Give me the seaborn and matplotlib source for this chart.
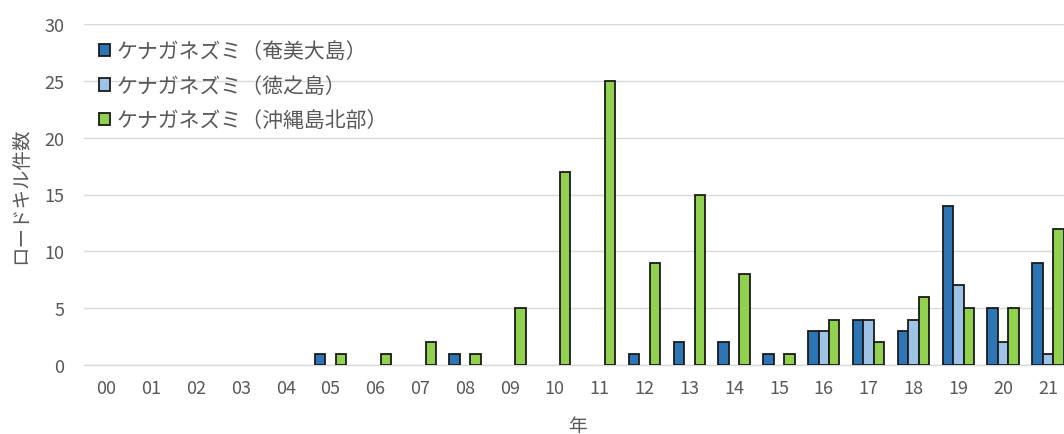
import numpy as np
import pandas as pd
import matplotlib
matplotlib.use("Agg")
import matplotlib.pyplot as plt
import seaborn as sns

years = ["00", "01", "02", "03", "04", "05", "06", "07", "08", "09", "10",
         "11", "12", "13", "14", "15", "16", "17", "18", "19", "20", "21"]
amami = [0, 0, 0, 0, 0, 1, 0, 0, 1, 0, 0, 0, 1, 2, 2, 1, 3, 4, 3, 14, 5, 9]
tokunoshima = [0, 0, 0, 0, 0, 0, 0, 0, 0, 0, 0, 0, 0, 0, 0, 0, 3, 4, 4, 7, 2, 1]
okinawa = [0, 0, 0, 0, 0, 1, 1, 2, 1, 5, 17, 25, 9, 15, 8, 1, 4, 2, 6, 5, 5, 12]
series_names = ["ケナガネズミ（奄美大島）", "ケナガネズミ（徳之島）", "ケナガネズミ（沖縄島北部）"]
colors = ["#2E75B6", "#9DC3E6", "#92D050"]

sns.set_theme(style="white")
plt.rcParams["font.family"] = ["Noto Sans CJK JP", "DejaVu Sans"]

rows = []
for name, vals in zip(series_names, [amami, tokunoshima, okinawa]):
    for y, v in zip(years, vals):
        rows.append({"year": y, "series": name, "count": v if v > 0 else np.nan})
df = pd.DataFrame(rows)

fig = plt.figure(figsize=(10.64, 4.35), dpi=100)
ax = fig.add_axes([84 / 1064, 1 - 366 / 435, (1070.4 - 84) / 1064, (366 - 25) / 435])

sns.barplot(data=df, x="year", y="count", hue="series", order=years,
            hue_order=series_names, palette=colors, saturation=1, width=0.7,
            edgecolor="#1a1a1a", linewidth=1.3, errorbar=None, ax=ax, zorder=3)

ax.set_ylim(0, 30)
ax.set_xlim(-0.5, len(years) - 0.5)
ax.set_yticks([0, 5, 10, 15, 20, 25, 30])
ax.yaxis.grid(True, color="#D9D9D9", linewidth=1.0, zorder=0)
ax.xaxis.grid(False)
for s in ["top", "right", "left"]:
    ax.spines[s].set_visible(False)
ax.spines["bottom"].set_color("#D9D9D9")
ax.spines["bottom"].set_linewidth(1.0)
ax.tick_params(axis="both", length=0, labelsize=13, colors="#595959", pad=10)
ax.tick_params(axis="y", pad=14)

ax.set_xlabel("年", fontsize=13.5, color="#595959", labelpad=13)
ax.set_ylabel("ロードキル件数", fontsize=14, color="#595959", labelpad=10)

handles, labels = ax.get_legend_handles_labels()
leg = ax.legend(handles, labels, loc="upper left", bbox_to_anchor=(0.0, 0.995),
                frameon=False, fontsize=15, labelcolor="#595959",
                handlelength=0.55, handleheight=0.55, handletextpad=0.3,
                labelspacing=0.6, borderaxespad=0.3)
for h in leg.legend_handles:
    h.set_edgecolor("#1a1a1a")
    h.set_linewidth(1.3)

fig.savefig("out.png", dpi=100)
